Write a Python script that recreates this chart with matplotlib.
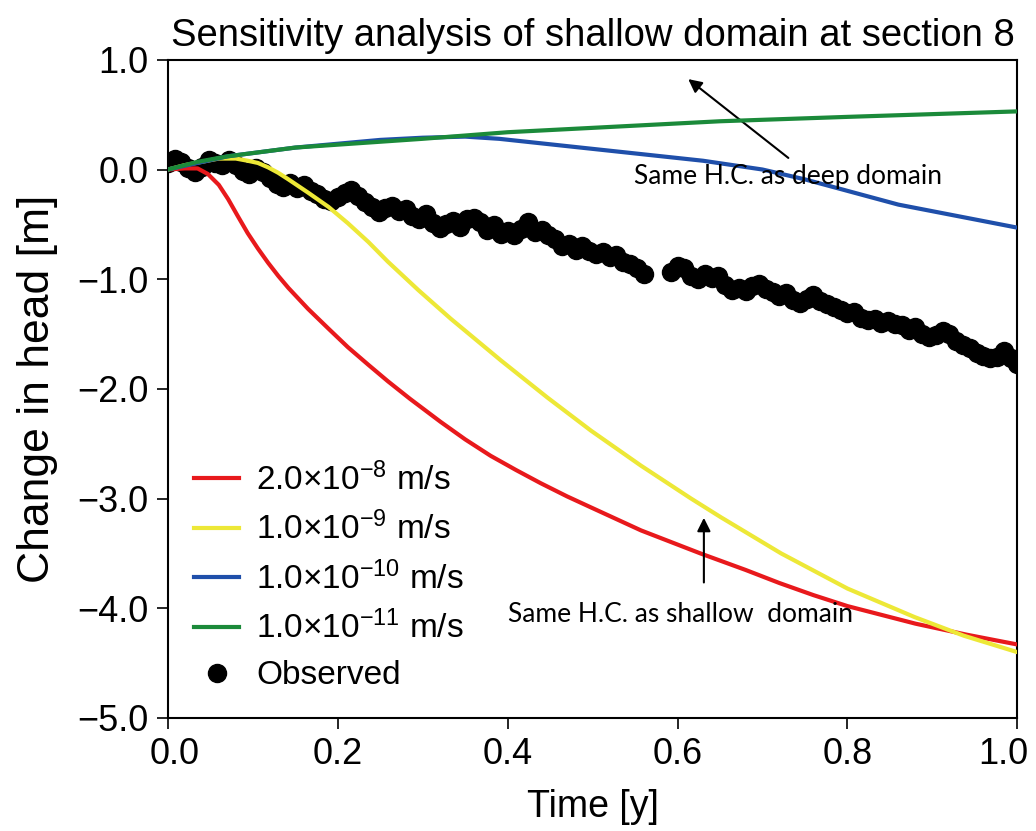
import matplotlib
matplotlib.use("Agg")
import matplotlib.pyplot as plt
import matplotlib.ticker as ticker
from matplotlib.transforms import ScaledTranslation

plt.rcParams['font.family'] = ['Liberation Sans', 'DejaVu Sans']
plt.rcParams['mathtext.fontset'] = 'custom'
plt.rcParams['mathtext.rm'] = 'Liberation Sans'
plt.rcParams['mathtext.it'] = 'Liberation Sans'

# --- simulated head change for each hydraulic conductivity ---
red_t = [0, 0.02, 0.035, 0.047, 0.06, 0.071, 0.082, 0.094, 0.106, 0.118, 0.13, 0.142,
         0.165, 0.189, 0.212, 0.236, 0.259, 0.285, 0.321, 0.35, 0.38, 0.41, 0.439,
         0.47, 0.498, 0.557, 0.627, 0.68, 0.72, 0.76, 0.80, 0.84, 0.88, 0.94, 1.0]
red_h = [0, 0.01, 0.01, -0.04, -0.14, -0.27, -0.42, -0.58, -0.72, -0.85, -0.97, -1.08,
         -1.27, -1.45, -1.62, -1.78, -1.93, -2.09, -2.30, -2.46, -2.61, -2.74, -2.86,
         -2.98, -3.08, -3.29, -3.50, -3.65, -3.77, -3.88, -3.98, -4.06, -4.14, -4.24, -4.33]

yel_t = [0, 0.02, 0.04, 0.06, 0.08, 0.094, 0.106, 0.118, 0.13, 0.142, 0.165, 0.189,
         0.212, 0.236, 0.259, 0.295, 0.333, 0.392, 0.447, 0.498, 0.557, 0.616, 0.651,
         0.722, 0.80, 0.879, 0.937, 1.0]
yel_h = [0, 0.04, 0.07, 0.10, 0.10, 0.08, 0.06, 0.02, -0.03, -0.09, -0.21, -0.34,
         -0.49, -0.66, -0.84, -1.10, -1.36, -1.74, -2.08, -2.38, -2.70, -3.00, -3.17,
         -3.50, -3.82, -4.08, -4.25, -4.40]

blu_t = [0, 0.07, 0.15, 0.25, 0.30, 0.35, 0.39, 0.45, 0.51, 0.57, 0.63, 0.70, 0.75, 0.86, 1.0]
blu_h = [0, 0.12, 0.20, 0.27, 0.29, 0.30, 0.28, 0.23, 0.18, 0.13, 0.08, 0.0, -0.09, -0.32, -0.53]

grn_t = [0, 0.035, 0.07, 0.15, 0.30, 0.40, 0.50, 0.65, 0.80, 1.0]
grn_h = [0, 0.07, 0.12, 0.20, 0.28, 0.34, 0.38, 0.44, 0.48, 0.53]

# --- observed head change ---
obs_t = [0.000, 0.008, 0.016, 0.024, 0.032, 0.040, 0.048, 0.056, 0.064, 0.072,
         0.080, 0.088, 0.096, 0.104, 0.112, 0.120, 0.128, 0.136, 0.144, 0.152,
         0.160, 0.168, 0.176, 0.184, 0.192, 0.200, 0.208, 0.216, 0.224, 0.232,
         0.240, 0.248, 0.256, 0.264, 0.272, 0.280, 0.288, 0.296, 0.304, 0.312,
         0.320, 0.328, 0.336, 0.344, 0.352, 0.360, 0.368, 0.376, 0.384, 0.392,
         0.400, 0.408, 0.416, 0.424, 0.432, 0.440, 0.448, 0.456, 0.464, 0.472,
         0.480, 0.488, 0.496, 0.504, 0.512, 0.520, 0.528, 0.536, 0.544, 0.552,
         0.560, 0.592, 0.600, 0.608, 0.616, 0.624, 0.632, 0.640, 0.648, 0.656,
         0.664, 0.672, 0.680, 0.688, 0.696, 0.704, 0.712, 0.720, 0.728, 0.736,
         0.744, 0.752, 0.760, 0.768, 0.776, 0.784, 0.792, 0.800, 0.808, 0.816,
         0.824, 0.832, 0.840, 0.848, 0.856, 0.864, 0.872, 0.880, 0.888, 0.896,
         0.904, 0.912, 0.920, 0.928, 0.936, 0.944, 0.952, 0.960, 0.968, 0.976,
         0.984, 0.992, 1.000]
obs_h = [0.06, 0.10, 0.07, 0.01, -0.02, 0.02, 0.09, 0.06, 0.04, 0.09,
         0.04, -0.01, -0.04, 0.01, -0.02, -0.08, -0.13, -0.16, -0.12, -0.17,
         -0.14, -0.20, -0.22, -0.27, -0.29, -0.25, -0.21, -0.19, -0.24, -0.30,
         -0.34, -0.39, -0.35, -0.33, -0.38, -0.36, -0.42, -0.45, -0.41, -0.49,
         -0.53, -0.50, -0.47, -0.52, -0.45, -0.44, -0.48, -0.55, -0.51, -0.59,
         -0.56, -0.60, -0.54, -0.48, -0.57, -0.55, -0.60, -0.63, -0.70, -0.68,
         -0.73, -0.70, -0.74, -0.77, -0.75, -0.80, -0.78, -0.84, -0.86, -0.90,
         -0.95, -0.93, -0.88, -0.90, -0.97, -1.00, -0.95, -0.99, -0.97, -1.05,
         -1.10, -1.08, -1.11, -1.06, -1.04, -1.09, -1.12, -1.15, -1.13, -1.19,
         -1.22, -1.18, -1.14, -1.20, -1.23, -1.25, -1.28, -1.31, -1.30, -1.35,
         -1.37, -1.36, -1.40, -1.38, -1.41, -1.42, -1.46, -1.44, -1.50, -1.53,
         -1.51, -1.47, -1.50, -1.56, -1.60, -1.63, -1.67, -1.70, -1.72, -1.71,
         -1.65, -1.72, -1.77]

labels = [r'2.0×10$^{-8}$ m/s', r'1.0×10$^{-9}$ m/s',
          r'1.0×10$^{-10}$ m/s', r'1.0×10$^{-11}$ m/s']
colors = ['#e8191c', '#ede837', '#1f4faa', '#1b8a3a']
xticks = [0, 0.2, 0.4, 0.6, 0.8, 1.0]
yticks = [1, 0, -1, -2, -3, -4, -5]

fig = plt.figure(figsize=(10.36, 8.31), dpi=100)
ax = fig.add_axes([0.162, 0.136, 0.820, 0.792])

ax.plot(obs_t, obs_h, 'o', color='black', ms=13, zorder=1, label='Observed')
ax.plot(red_t, red_h, color=colors[0], lw=3, zorder=3, label=labels[0])
ax.plot(yel_t, yel_h, color=colors[1], lw=3, zorder=3, label=labels[1])
ax.plot(blu_t, blu_h, color=colors[2], lw=3, zorder=3, label=labels[2])
ax.plot(grn_t, grn_h, color=colors[3], lw=3, zorder=4, label=labels[3])

ax.set_xlim(0, 1.0)
ax.set_ylim(-5.0, 1.0)
ax.set_xticks(xticks)
ax.set_yticks(yticks)
fmt = ticker.FuncFormatter(lambda v, _: f'{v:.1f}'.replace('-', '\u2212'))
ax.xaxis.set_major_formatter(fmt)
ax.yaxis.set_major_formatter(fmt)
ax.tick_params(length=8, width=1.2, direction='out', pad=6)
ax.tick_params(axis='y', labelsize=26)
ax.tick_params(axis='x', labelsize=26)
for s in ax.spines.values():
    s.set_linewidth(1.5)

# end labels sit slightly inward in the original figure
xl = ax.get_xticklabels()
xl[0].set_transform(xl[0].get_transform() + ScaledTranslation(7 / 100, 0, fig.dpi_scale_trans))
xl[-1].set_transform(xl[-1].get_transform() + ScaledTranslation(-14 / 100, 0, fig.dpi_scale_trans))

ax.set_title("Sensitivity analysis of shallow domain at section 8", fontsize=27.5, pad=10)
ax.set_xlabel("Time [y]", fontsize=27, labelpad=12)
ax.set_ylabel("Change in head [m]", fontsize=32, labelpad=14)

# legend: lines first, observed last
h, l = ax.get_legend_handles_labels()
order = [1, 2, 3, 4, 0]
ax.legend([h[i] for i in order], [l[i] for i in order], loc='lower left',
          fontsize=24, frameon=False, handlelength=1.35, handletextpad=0.5,
          labelspacing=0.45, borderaxespad=0.6, borderpad=0.2)

ax.annotate('', xy=(0.61, 0.84), xytext=(0.733, 0.09),
            arrowprops=dict(arrowstyle='-|>', color='black', lw=1.5, mutation_scale=20))
ax.text(0.73, -0.06, 'Same H.C. as deep domain', fontsize=19, family='Lato',
        ha='center', va='center', zorder=5)
ax.annotate('', xy=(0.631, -3.15), xytext=(0.631, -3.79),
            arrowprops=dict(arrowstyle='-|>', color='black', lw=1.5, mutation_scale=20))
ax.text(0.604, -4.06, 'Same H.C. as shallow  domain', fontsize=19, family='Lato',
        ha='center', va='center', zorder=5)

fig.savefig('out.png', dpi=100)
